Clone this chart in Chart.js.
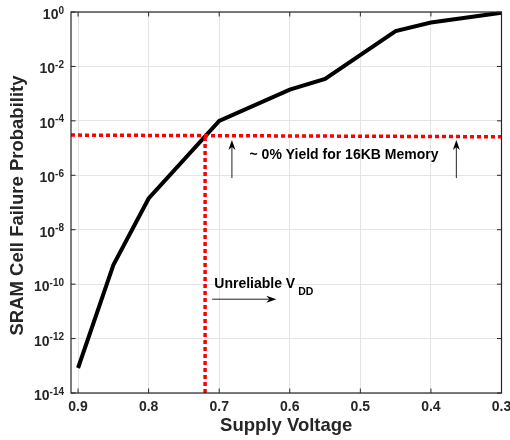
<!DOCTYPE html>
<html>
<head>
<meta charset="utf-8">
<script src="https://cdn.jsdelivr.net/npm/chart.js@4/dist/chart.umd.min.js"></script>
<style>
  html, body { margin: 0; padding: 0; background: #fff; }
  #wrap { width: 510px; height: 440px; }
</style>
</head>
<body>
<div id="wrap"><canvas id="chart" width="510" height="440"></canvas></div>
<script>
// Failure probability vs supply voltage
const voltage = [0.9, 0.85, 0.8, 0.7, 0.6, 0.55, 0.45, 0.4, 0.3];
const failProb = [8.3e-14, 5e-10, 1.4e-7, 1e-4, 1.4e-3, 3.5e-3, 0.2, 0.41, 0.94];

// Red dotted guide lines
const limitLineX = [0.91, 0.3];
const limitLineY = [3e-5, 2.6e-5];
const vddLineX = [0.72, 0.72];
const vddLineY = [1e-14, 2.9e-5];

// Tick labels
const xTicks = [0.9, 0.8, 0.7, 0.6, 0.5, 0.4, 0.3];
const yTicks = [1e0, 1e-2, 1e-4, 1e-6, 1e-8, 1e-10, 1e-12, 1e-14];

// Annotations (data coordinates)
const yieldArrowX = [0.682, 0.364];
const yieldArrowY = [7.9e-7, 2e-5];      // tail, head
const yieldLabel = ['~ 0% Yield for 16KB Memory', 0.657, 5.6e-6];
const vddArrowX = [0.71, 0.619];          // tail, head
const vddArrowY = 2.8e-11;
const vddLabel = ['Unreliable V', 'DD', 0.707, 1e-10];

const FONT = '"Liberation Sans", Arial, Helvetica, sans-serif';
const AXIS_COLOR = '#262626';

function arrow(ctx, x1, y1, x2, y2) {
    const ang = Math.atan2(y2 - y1, x2 - x1);
    const len = 10, hw = 3.5;
    ctx.beginPath(); ctx.moveTo(x1, y1);
    ctx.lineTo(x2 - len * 0.7 * Math.cos(ang), y2 - len * 0.7 * Math.sin(ang));
    ctx.lineWidth = 1; ctx.strokeStyle = '#222'; ctx.stroke();
    ctx.beginPath(); ctx.moveTo(x2, y2);
    ctx.lineTo(x2 - len * Math.cos(ang) + hw * Math.sin(ang), y2 - len * Math.sin(ang) - hw * Math.cos(ang));
    ctx.lineTo(x2 - len * 0.7 * Math.cos(ang), y2 - len * 0.7 * Math.sin(ang));
    ctx.lineTo(x2 - len * Math.cos(ang) - hw * Math.sin(ang), y2 - len * Math.sin(ang) + hw * Math.cos(ang));
    ctx.closePath(); ctx.fillStyle = '#000'; ctx.fill();
}

const matlabAxes = {
    id: 'matlabAxes',
    afterDraw(chart) {
        const ctx = chart.ctx;
        const { left, right, top, bottom } = chart.chartArea;
        const xs = chart.scales.x, ys = chart.scales.y;
        ctx.save();

        // box
        ctx.strokeStyle = AXIS_COLOR; ctx.lineWidth = 1.2;
        ctx.strokeRect(left, top, right - left, bottom - top);

        // inward ticks
        ctx.beginPath();
        xTicks.forEach(v => {
            const px = xs.getPixelForValue(v);
            ctx.moveTo(px, bottom); ctx.lineTo(px, bottom - 4.5);
            ctx.moveTo(px, top); ctx.lineTo(px, top + 4.5);
        });
        yTicks.forEach(v => {
            const py = ys.getPixelForValue(v);
            ctx.moveTo(left, py); ctx.lineTo(left + 4.5, py);
            ctx.moveTo(right, py); ctx.lineTo(right - 4.5, py);
        });
        ctx.lineWidth = 1; ctx.stroke();

        // x tick labels
        ctx.fillStyle = AXIS_COLOR;
        ctx.font = 'bold 14px ' + FONT;
        ctx.textAlign = 'center'; ctx.textBaseline = 'middle';
        xTicks.forEach(v => ctx.fillText(v.toFixed(1), xs.getPixelForValue(v), bottom + 14));

        // y tick labels 10^n
        ctx.textBaseline = 'alphabetic';
        yTicks.forEach(v => {
            const py = ys.getPixelForValue(v);
            const ex = String(Math.round(Math.log10(v)));
            ctx.font = 'bold 10px ' + FONT;
            const ew = ctx.measureText(ex).width;
            ctx.textAlign = 'right';
            ctx.fillText(ex, left - 7, py + 1.5);
            ctx.font = 'bold 14px ' + FONT;
            ctx.fillText('10', left - 7 - ew, py + 7);
        });

        // axis titles
        ctx.font = 'bold 18.5px ' + FONT;
        ctx.textAlign = 'center'; ctx.textBaseline = 'middle';
        ctx.fillText('Supply Voltage', (left + right) / 2, bottom + 33);
        ctx.save();
        ctx.translate(18, (top + bottom) / 2 + 3);
        ctx.rotate(-Math.PI / 2);
        ctx.fillText('SRAM Cell Failure Probability', 0, 0);
        ctx.restore();

        // annotations
        yieldArrowX.forEach(v => {
            const px = xs.getPixelForValue(v);
            arrow(ctx, px, ys.getPixelForValue(yieldArrowY[0]), px, ys.getPixelForValue(yieldArrowY[1]));
        });
        arrow(ctx, xs.getPixelForValue(vddArrowX[0]), ys.getPixelForValue(vddArrowY),
              xs.getPixelForValue(vddArrowX[1]), ys.getPixelForValue(vddArrowY));

        ctx.fillStyle = '#000';
        ctx.textAlign = 'left'; ctx.textBaseline = 'middle';
        ctx.font = 'bold 14px ' + FONT;
        ctx.fillText(yieldLabel[0], xs.getPixelForValue(yieldLabel[1]), ys.getPixelForValue(yieldLabel[2]));

        const tx = xs.getPixelForValue(vddLabel[2]), ty = ys.getPixelForValue(vddLabel[3]);
        ctx.fillText(vddLabel[0], tx, ty);
        const mw = ctx.measureText(vddLabel[0]).width;
        ctx.font = 'bold 10.5px ' + FONT;
        ctx.fillText(vddLabel[1], tx + mw + 3, ty + 7.5);

        ctx.restore();
    }
};

new Chart(document.getElementById('chart'), {
    type: 'line',
    data: {
        datasets: [
            {
                data: limitLineX.map((x, i) => ({ x, y: limitLineY[i] })),
                borderColor: '#ff0000', borderWidth: 3.5, borderDash: [4, 3],
                pointRadius: 0, fill: false,
            },
            {
                data: vddLineX.map((x, i) => ({ x, y: vddLineY[i] })),
                borderColor: '#ff0000', borderWidth: 3.5, borderDash: [4, 3],
                pointRadius: 0, fill: false,
            },
            {
                data: voltage.map((x, i) => ({ x, y: failProb[i] })),
                borderColor: '#000', borderWidth: 4, pointRadius: 0,
                fill: false, tension: 0, borderJoinStyle: 'miter',
            },
        ],
    },
    options: {
        responsive: false,
        animation: false,
        events: [],
        layout: { padding: { left: 71, right: 8.5, top: 12, bottom: 47 } },
        plugins: { legend: { display: false }, tooltip: { enabled: false } },
        scales: {
            x: {
                type: 'linear', min: 0.3, max: 0.91, reverse: true,
                afterBuildTicks: s => { s.ticks = xTicks.map(value => ({ value })); },
                ticks: { display: false },
                grid: { color: '#e4e4e4', lineWidth: 1, drawTicks: false },
                border: { display: false },
            },
            y: {
                type: 'logarithmic', min: 1e-14, max: 1,
                afterBuildTicks: s => { s.ticks = yTicks.map(value => ({ value })); },
                ticks: { display: false },
                grid: { color: '#e4e4e4', lineWidth: 1, drawTicks: false },
                border: { display: false },
            },
        },
    },
    plugins: [matlabAxes],
});
</script>
</body>
</html>
